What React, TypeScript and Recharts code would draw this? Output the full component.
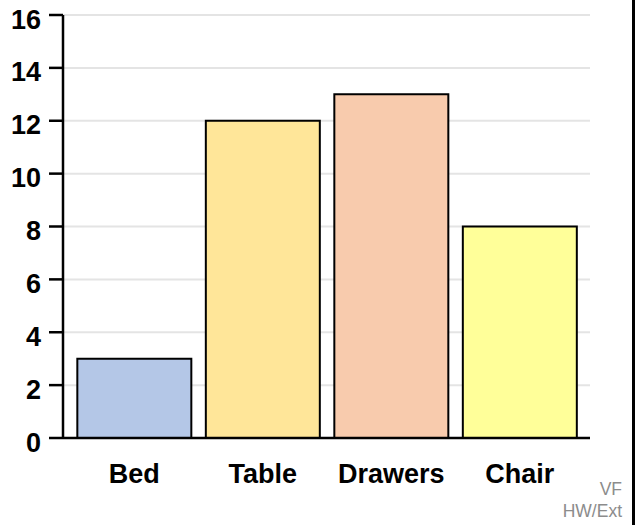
import React from "react";
import { Bar, BarChart, CartesianGrid, Cell, XAxis, YAxis } from "recharts";

const items = ["Bed", "Table", "Drawers", "Chair"];
const counts = [3, 12, 13, 8];
const colours = ["#b4c7e7", "#ffe699", "#f8cbad", "#ffff99"];
const yTicks = [0, 2, 4, 6, 8, 10, 12, 14, 16];

const data = items.map((name, i) => ({ name, value: counts[i] }));

const font = "'Liberation Sans', Arial, sans-serif";

export default function App() {
  return (
    <div
      style={{
        position: "relative",
        width: 635,
        height: 525,
        margin: -8,
        background: "#fff",
        fontFamily: font,
      }}
    >
      <BarChart
        width={635}
        height={525}
        data={data}
        margin={{ top: 15, right: 45, bottom: 0, left: 0 }}
        barCategoryGap="5.7%"
      >
        <CartesianGrid vertical={false} stroke="#e4e4e4" strokeWidth={2} />
        <XAxis
          dataKey="name"
          height={87}
          padding={{ left: 7, right: 6 }}
          axisLine={{ stroke: "#000", strokeWidth: 2.5 }}
          tickLine={false}
          tickSize={0}
          tickMargin={26}
          tick={{ fill: "#000", fontSize: 27, fontWeight: 700, fontFamily: font }}
        />
        <YAxis
          width={63}
          domain={[0, 16]}
          ticks={yTicks}
          interval={0}
          axisLine={{ stroke: "#000", strokeWidth: 2.5 }}
          tickLine={{ stroke: "#000", strokeWidth: 2.5 }}
          tickSize={14}
          tickMargin={8}
          tick={{ fill: "#000", fontSize: 27, fontWeight: 700, fontFamily: font, dy: 4 }}
        />
        <Bar dataKey="value" stroke="#000" strokeWidth={2} isAnimationActive={false}>
          {data.map((d, i) => (
            <Cell key={d.name} fill={colours[i]} />
          ))}
        </Bar>
      </BarChart>
      <div
        style={{
          position: "absolute",
          right: 13,
          top: 478,
          textAlign: "right",
          color: "#8c8c8c",
          fontSize: 17.5,
          lineHeight: "22px",
        }}
      >
        <div>VF</div>
        <div>HW/Ext</div>
      </div>
      <div
        style={{
          position: "fixed",
          right: 0,
          top: 0,
          width: 3,
          height: "100vh",
          background: "#000",
          zIndex: 10,
        }}
      />
    </div>
  );
}
